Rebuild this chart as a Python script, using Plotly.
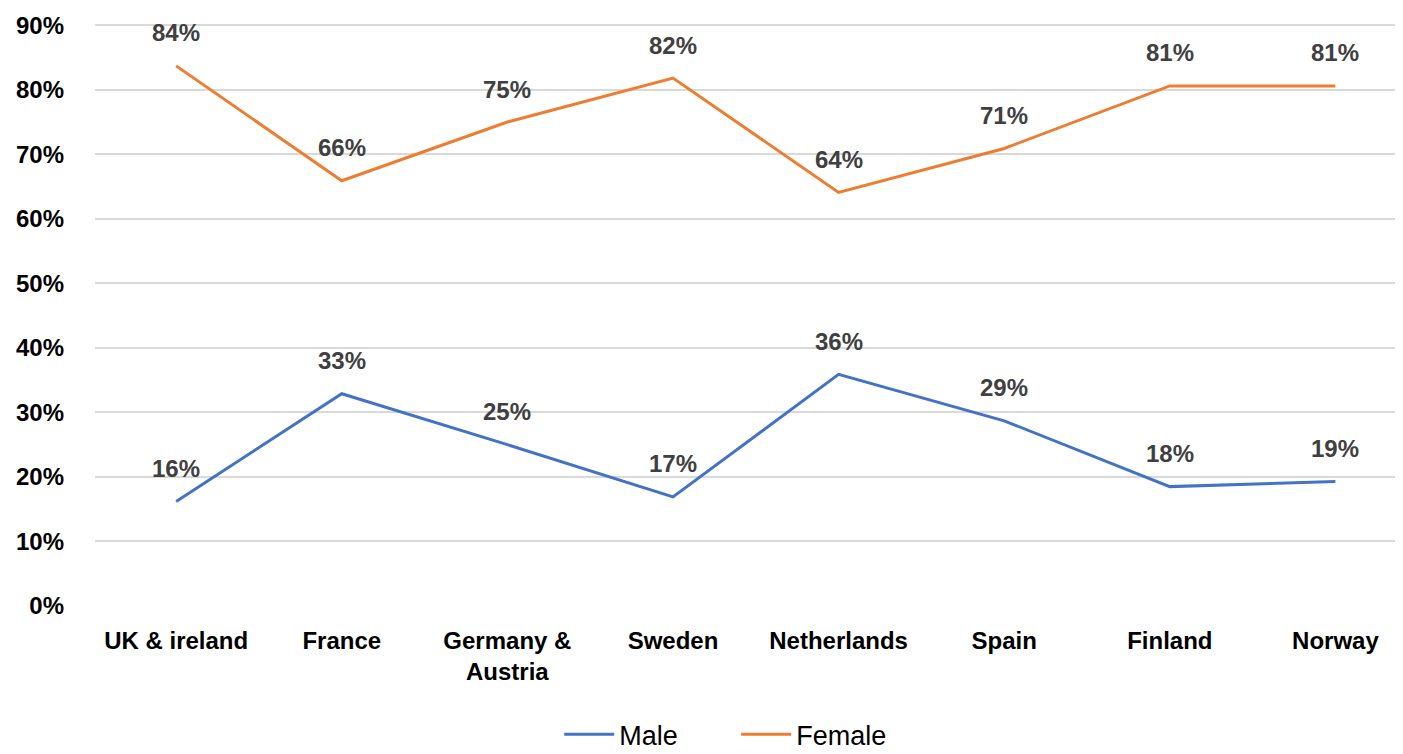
import plotly.graph_objects as go

categories = ["UK & ireland", "France", "Germany &<br>Austria", "Sweden", "Netherlands", "Spain", "Finland", "Norway"]
male = [0.162, 0.329, 0.25, 0.169, 0.359, 0.287, 0.185, 0.193]
female = [0.837, 0.659, 0.75, 0.818, 0.641, 0.709, 0.806, 0.806]
y_ticks = [0, 0.1, 0.2, 0.3, 0.4, 0.5, 0.6, 0.7, 0.8, 0.9]

BLUE = "#4472C4"
ORANGE = "#ED7D31"
FONT = "Liberation Sans"

fig = go.Figure()
fig.add_trace(go.Scatter(x=categories, y=male, mode="lines", name="Male",
                         line=dict(color=BLUE, width=3)))
fig.add_trace(go.Scatter(x=categories, y=female, mode="lines", name="Female",
                         line=dict(color=ORANGE, width=3)))

for series in (male, female):
    for c, v in zip(categories, series):
        fig.add_annotation(x=c, y=v, text=f"<b>{round(v*100)}%</b>", showarrow=False,
                           yshift=33, font=dict(family=FONT, size=24, color="#404040"))

# page body adds an 8px offset; the figure size/margins compensate for it
fig.update_layout(
    width=1395, height=746,
    margin=dict(l=87, r=3, t=14, b=148, autoexpand=False),
    plot_bgcolor="white", paper_bgcolor="white",
    font=dict(family=FONT),
    showlegend=True,
    legend=dict(orientation="h", xref="container", yref="container",
                x=0.522, y=0.026, xanchor="center", yanchor="middle",
                font=dict(family=FONT, size=27, color="#000000"),
                itemwidth=50, entrywidth=112, entrywidthmode="pixels"),
)
fig.update_xaxes(range=[-0.49, 7.39], showgrid=False, showline=False, zeroline=False,
                 automargin=False, ticklabelstandoff=18,
                 ticks="", tickfont=dict(family=FONT, size=24, color="#000000", weight="bold"))
fig.update_yaxes(range=[0, 0.905], tickvals=y_ticks, tickformat=".0%", showgrid=True,
                 automargin=False,
                 gridcolor="#D9D9D9", gridwidth=1.5, zeroline=False, showline=False,
                 ticklabelstandoff=30,
                 tickfont=dict(family=FONT, size=24, color="#000000", weight="bold"))

fig.write_html("out.html")
